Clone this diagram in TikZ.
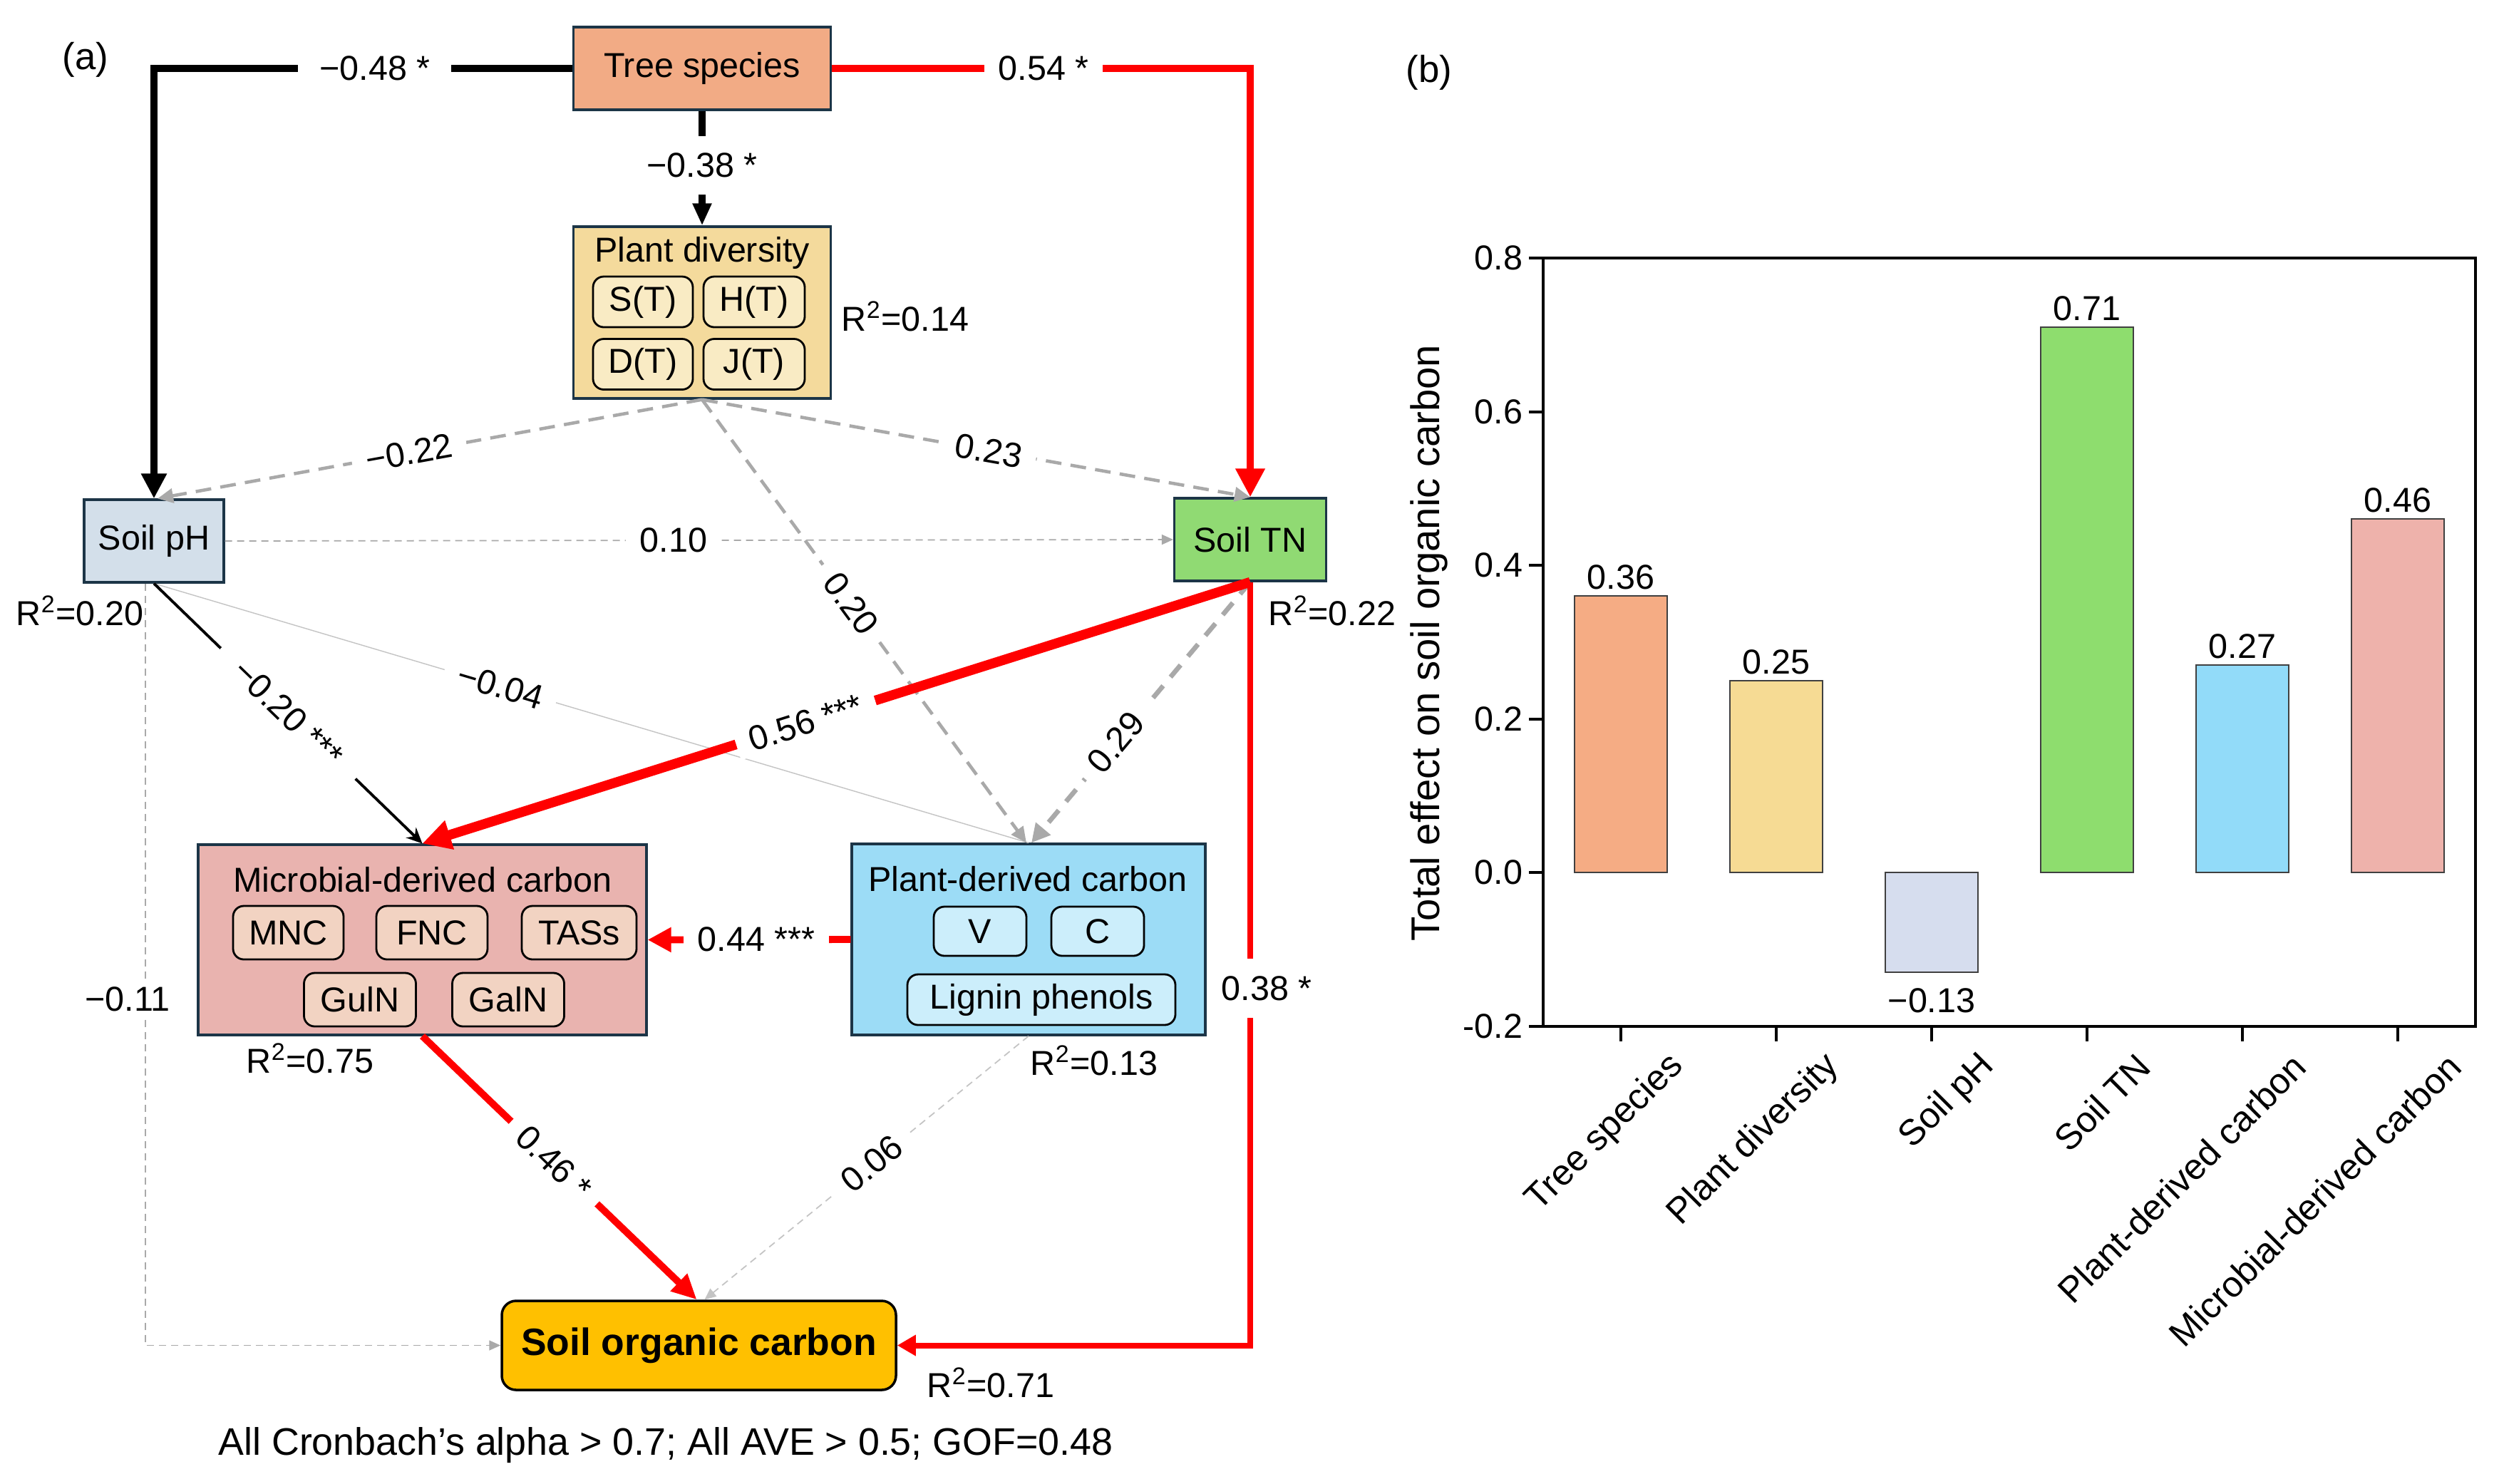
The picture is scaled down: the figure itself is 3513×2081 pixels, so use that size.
\documentclass[tikz,border=0pt]{standalone}
\usepackage{fontspec}
\setmainfont{Liberation Sans}
\usetikzlibrary{arrows.meta}
\definecolor{bordc}{HTML}{1C3547}
\definecolor{tsc}{HTML}{F2AB85}
\definecolor{pdcol}{HTML}{F4DA9C}
\definecolor{pdsub}{HTML}{F9EBC4}
\definecolor{phcol}{HTML}{D3DFEA}
\definecolor{tncol}{HTML}{90DA73}
\definecolor{mdcol}{HTML}{E9B3AF}
\definecolor{mdsub}{HTML}{F2D3C2}
\definecolor{pdccol}{HTML}{9CDCF6}
\definecolor{pdcsub}{HTML}{CCEEFB}
\definecolor{soccol}{HTML}{FFC000}
\definecolor{redc}{HTML}{FF0000}
\definecolor{grayc}{HTML}{A9A9A9}
\definecolor{lgrayc}{HTML}{C4C4C4}
\definecolor{barA}{HTML}{F5AC84}
\definecolor{barB}{HTML}{F6DB94}
\definecolor{barC}{HTML}{D6DDEE}
\definecolor{barD}{HTML}{8EDD6E}
\definecolor{barE}{HTML}{92DBF9}
\definecolor{barF}{HTML}{EEB2AB}
\tikzset{
  mybox/.style={draw=bordc, line width=0.9pt, inner sep=0pt},
  subbox/.style={draw=black, line width=0.8pt, rounded corners=1.5mm, inner sep=0pt},
  elab/.style={fill=white, inner xsep=2mm, inner ysep=0.6mm},
  vlab/.style={fill=white, inner xsep=0.5mm, inner ysep=2.4mm},
  gdash/.style={draw=grayc, line width=1.3pt, dash pattern=on 2.2mm off 1.3mm, -{Triangle[length=2.2mm,width=2mm]}},
  gthin/.style={draw=grayc, line width=0.5pt, dash pattern=on 1mm off 0.7mm, -{Triangle[length=1.6mm,width=1.4mm]}},
  axisline/.style={draw=black, line width=1.1pt},
}
\begin{document}
\begin{tikzpicture}[x=0.1mm,y=-0.1mm, font=\fontsize{13.8}{16}\selectfont]
\useasboundingbox (0,0) rectangle (3513,2081);
\fill[white] (0,0) rectangle (3513,2081);

% ---------------- panel (a) ----------------
\node[font=\fontsize{15}{18}\selectfont] (pa) at (120,84) {(a)};

\node[mybox, fill=tsc, minimum width=36.1mm, minimum height=11.6mm] (ts) at (985,96) {Tree species};

\node[mybox, fill=pdcol, minimum width=36.1mm, minimum height=24.1mm] (pd) at (985,438.5) {};
\node (pdt) at (985,355) {Plant diversity};
\node[subbox, fill=pdsub, minimum width=14mm, minimum height=7.1mm] (st) at (902,423.5) {S(T)};
\node[subbox, fill=pdsub, minimum width=14.2mm, minimum height=7.1mm] (ht) at (1058,423.5) {H(T)};
\node[subbox, fill=pdsub, minimum width=14mm, minimum height=7.1mm] (dt) at (902,511) {D(T)};
\node[subbox, fill=pdsub, minimum width=14.2mm, minimum height=7.1mm] (jt) at (1058,511) {J(T)};
\node (r14) at (1270,444) {R\textsuperscript{2}=0.14};

\node[mybox, fill=phcol, minimum width=19.6mm, minimum height=11.6mm] (ph) at (216,759) {Soil pH};
\node (r20) at (112,857) {R\textsuperscript{2}=0.20};

\node[mybox, fill=tncol, minimum width=21.3mm, minimum height=11.6mm] (tn) at (1754,757) {Soil TN};
\node (r22) at (1869,857) {R\textsuperscript{2}=0.22};

\node[mybox, fill=mdcol, minimum width=62.9mm, minimum height=26.7mm] (mdc) at (592.5,1318.5) {};
\node (mdct) at (593,1234) {Microbial-derived carbon};
\node[subbox, fill=mdsub, minimum width=15.5mm, minimum height=7.5mm] (mnc) at (404.5,1308.5) {MNC};
\node[subbox, fill=mdsub, minimum width=15.6mm, minimum height=7.5mm] (fnc) at (606,1308.5) {FNC};
\node[subbox, fill=mdsub, minimum width=16.1mm, minimum height=7.5mm] (tas) at (812.5,1308.5) {TASs};
\node[subbox, fill=mdsub, minimum width=15.7mm, minimum height=7.5mm] (guln) at (505,1402.5) {GulN};
\node[subbox, fill=mdsub, minimum width=15.7mm, minimum height=7.5mm] (galn) at (713,1402.5) {GalN};
\node (r75) at (435,1485) {R\textsuperscript{2}=0.75};

\node[mybox, fill=pdccol, minimum width=49.6mm, minimum height=26.8mm] (pdc) at (1443,1318) {};
\node (pdct) at (1442,1233) {Plant-derived carbon};
\node[subbox, fill=pdcsub, minimum width=13mm, minimum height=6.9mm] (vv) at (1375,1306.5) {V};
\node[subbox, fill=pdcsub, minimum width=13mm, minimum height=6.9mm] (cc) at (1540,1306.5) {C};
\node[subbox, fill=pdcsub, minimum width=37.6mm, minimum height=7.1mm] (lig) at (1461,1402.5) {Lignin phenols};
\node (r13) at (1535,1488) {R\textsuperscript{2}=0.13};

\node[draw=black, line width=1pt, rounded corners=2mm, fill=soccol, minimum width=55.3mm, minimum height=12.5mm, inner sep=0pt, font=\fontsize{15.2}{18}\selectfont\bfseries] (soc) at (980.5,1887.5) {Soil organic carbon};
\node (r71) at (1390,1940) {R\textsuperscript{2}=0.71};

\node[font=\fontsize{15.3}{18}\selectfont] (note) at (934,2028) {All Cronbach’s alpha > 0.7; All AVE > 0.5; GOF=0.48};

% ---- gray connectors ----
\draw[draw=lgrayc, line width=0.4pt] (ph.south) -- (pdc.north)
  node[elab, sloped, pos=0.396] (l04) {−0.04};
\draw[gthin] ([xshift=-1.2mm]ph.south) |- (soc.west)
  node[elab, inner xsep=1mm, xshift=-2.5mm, pos=0.2726] (l11) {−0.11};
\draw[gthin] (ph.east) -- (tn.west) node[elab, pos=0.473] (l10) {0.10};
\draw[gthin, draw=lgrayc] (pdc.south) -- ([xshift=0.8mm]soc.north) node[elab, sloped, pos=0.484] (l06) {0.06};
\draw[gdash] (pd.south) -- ([xshift=0.5mm]ph.north) node[elab, sloped, pos=0.538] (l22) {−0.22};
\draw[gdash] (pd.south) -- (tn.north) node[elab, sloped, pos=0.523] (l23) {0.23};
\draw[gdash] (pd.south) -- ([xshift=-0.3mm]pdc.north) node[elab, sloped, pos=0.46] (l20) {0.20};
\draw[gdash, line width=1.9pt, dash pattern=on 2.2mm off 1.6mm, -{Triangle[length=2.6mm,width=2.6mm]}] (tn.south) -- ([xshift=0.4mm]pdc.north)
  node[elab, sloped, pos=0.614] (l29) {0.29};

% ---- black connectors ----
\draw[line width=2.8pt, -{Triangle[length=3.5mm,width=3.4mm]}] (ts.west) -| (ph.north)
  node[elab, inner xsep=3mm, pos=0.236] (l48) {−0.48 *};
\draw[line width=2.6pt, -{Triangle[length=3.1mm,width=2.5mm]}] (ts.south) -- (pd.north)
  node[vlab, pos=0.476] (l38a) {−0.38 *};
\draw[line width=1.1pt, -{Stealth[length=2.2mm,width=2mm]}] (ph.south) -- (mdc.north)
  node[elab, inner xsep=3.5mm, sloped, pos=0.5] (l20b) {−0.20 ***};

% ---- red connectors ----
\draw[redc, line width=3pt, -{Triangle[length=4mm,width=3.9mm]}] (ts.east) -| (tn.north)
  node[elab, text=black, pos=0.253] (l54) {0.54 *};
\draw[redc, line width=3.9pt, -{Triangle[length=4mm,width=4mm]}] (tn.south) -- (mdc.north)
  node[elab, text=black, sloped, pos=0.537] (l56) {0.56 ***};
\draw[redc, line width=2.3pt, -{Triangle[length=2.6mm,width=2.8mm]}] (tn.south) |- (soc.east)
  node[vlab, text=black, xshift=2.3mm, pos=0.266] (l38b) {0.38 *};
\draw[redc, line width=2.8pt, -{Triangle[length=3.3mm,width=3.3mm]}] (pdc.west) -- (mdc.east)
  node[elab, text=black, pos=0.465] (l44) {0.44 ***};
\draw[redc, line width=2.8pt, -{Triangle[length=3.5mm,width=3.2mm]}] (mdc.south) -- ([xshift=-0.3mm]soc.north)
  node[elab, text=black, sloped, pos=0.48] (l46) {0.46 *};

% ---------------- panel (b) ----------------
\node[font=\fontsize{15}{18}\selectfont] (pb) at (2005,102) {(b)};
\node[rotate=90, font=\fontsize{16}{19}\selectfont] (ylab) at (2005,902) {Total effect on soil organic carbon};

% bars
\foreach \x/\yy/\c [count=\i] in {2274/836/barA, 2492/955/barB, 2710/1364/barC, 2928/459/barD, 3146/933/barE, 3364/728/barF}{
  \draw[fill=\c, draw=black!75, line width=0.6pt] ({\x-65},1224) rectangle ({\x+65},\yy);
}
\node[anchor=south, inner sep=0.8mm] (v1) at (2274,836) {0.36};
\node[anchor=south, inner sep=0.8mm] (v2) at (2492,955) {0.25};
\node[anchor=north, inner sep=2.2mm] (v3) at (2710,1364) {−0.13};
\node[anchor=south, inner sep=0.8mm] (v4) at (2928,459) {0.71};
\node[anchor=south, inner sep=0.8mm] (v5) at (3146,933) {0.27};
\node[anchor=south, inner sep=0.8mm] (v6) at (3364,728) {0.46};

% axes frame
\draw[axisline] (2165,362) rectangle (3473,1440);
\foreach \y/\t [count=\i] in {362/0.8, 578/0.6, 793/0.4, 1009/0.2, 1224/0.0, 1440/-0.2}{
  \draw[axisline] (2145,\y) -- (2165,\y);
  \node[anchor=east, inner sep=0.5mm] (yt\i) at (2142,\y) {\t};
}
\foreach \x/\t [count=\i] in {2274/Tree species, 2492/Plant diversity, 2710/Soil pH, 2928/Soil TN, 3146/Plant-derived carbon, 3364/Microbial-derived carbon}{
  \draw[axisline] (\x,1440) -- (\x,1461);
  \node[rotate=45, anchor=east, inner sep=0.5mm, font=\fontsize{14.4}{17}\selectfont] (xl\i) at ({\x+84},1484) {\t};
}
\end{tikzpicture}
\end{document}
